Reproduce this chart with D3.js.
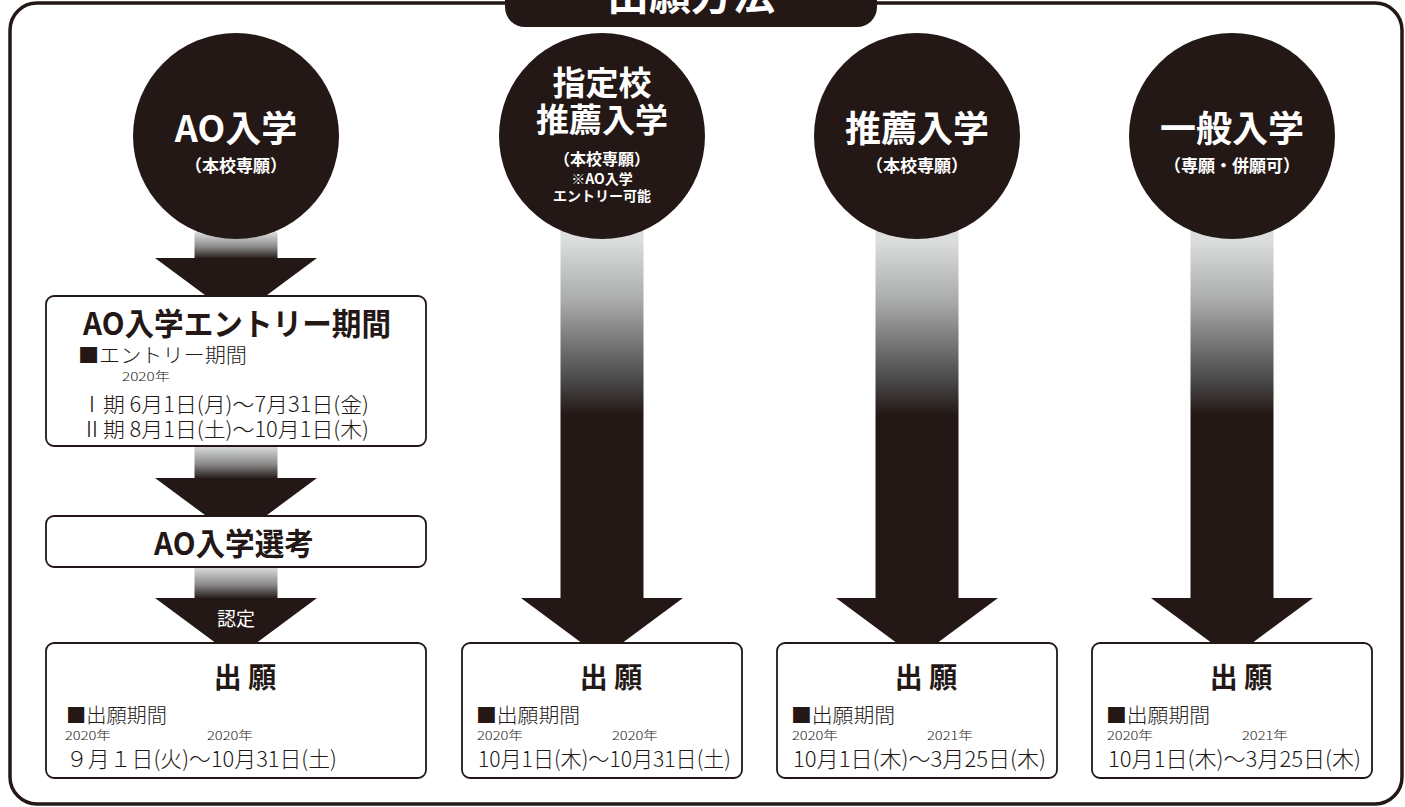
<!DOCTYPE html>
<html lang="ja">
<head>
<meta charset="utf-8">
<script src="https://cdn.jsdelivr.net/npm/d3@7"></script>
<style>
  html, body { margin: 0; padding: 0; background: #fff; }
  svg { display: block; font-family: "Noto Sans CJK JP", "Noto Sans", sans-serif; }
</style>
</head>
<body>
<div class="chart"></div>
<script>
// --- data ---
const heading = "出願方法"
const courses = ["AO入学", "指定校推薦入学", "推薦入学", "一般入学"]
const courseTitleLines = [["AO入学"], ["指定校", "推薦入学"], ["推薦入学"], ["一般入学"]]
const courseNotes = [["（本校専願）"], ["（本校専願）", "※AO入学", "エントリー可能"], ["（本校専願）"], ["（専願・併願可）"]]
const aoSteps = ["AO入学エントリー期間", "AO入学選考"]
const entryLabel = "■エントリー期間"
const entryYear = "2020年"
const entryPeriods = ["Ⅰ期 6月1日(月)～7月31日(金)", "Ⅱ期 8月1日(土)～10月1日(木)"]
const approvalLabel = "認定"
const applyTitle = "出 願"
const applyLabel = "■出願期間"
const applyStartYears = ["2020年", "2020年", "2020年", "2020年"]
const applyEndYears = ["2020年", "2020年", "2021年", "2021年"]
const applyPeriods = ["９月１日(火)～10月31日(土)", "10月1日(木)～10月31日(土)", "10月1日(木)～3月25日(木)", "10月1日(木)～3月25日(木)"]

// --- look ---
const ink = "#231815"
const pale = "#dcdddd"

const width = 1405, height = 807
const svg = d3.select("div.chart").append("svg")
    .attr("width", width)
    .attr("height", height)

const colX = d3.scaleOrdinal().domain(courses).range([236, 602, 917, 1232])
const boxW = d3.scaleOrdinal().domain(courses).range([380, 280, 280, 280])

const defs = svg.append("defs")
// short stems: fade across the whole stem
const g1 = defs.append("linearGradient").attr("id", "fadeShort")
    .attr("x1", 0).attr("y1", 0).attr("x2", 0).attr("y2", 1)
g1.append("stop").attr("offset", 0).attr("stop-color", pale)
g1.append("stop").attr("offset", 0.55).attr("stop-color", "#8a8a8a")
g1.append("stop").attr("offset", 1).attr("stop-color", ink)
// long stems: fade then solid
const g2 = defs.append("linearGradient").attr("id", "fadeLong")
    .attr("gradientUnits", "userSpaceOnUse")
    .attr("x1", 0).attr("y1", 240).attr("x2", 0).attr("y2", 415)
g2.append("stop").attr("offset", 0).attr("stop-color", pale)
g2.append("stop").attr("offset", 0.35).attr("stop-color", "#a9aaaa")
g2.append("stop").attr("offset", 0.8).attr("stop-color", "#4a4949")
g2.append("stop").attr("offset", 1).attr("stop-color", ink)

// outer frame + heading tab
svg.append("rect")
    .attr("x", 10).attr("y", 3).attr("width", 1392).attr("height", 801)
    .attr("rx", 27)
    .attr("fill", "none").attr("stroke", ink).attr("stroke-width", 3.5)

svg.append("rect")
    .attr("x", 505).attr("y", -30).attr("width", 372).attr("height", 57)
    .attr("rx", 20)
    .attr("fill", ink)
svg.append("text")
    .attr("x", 691).attr("y", 10)
    .attr("text-anchor", "middle")
    .attr("font-size", 42).attr("font-weight", 700)
    .attr("fill", "#fff")
    .text(heading)

// arrows: stem + head
function arrow(cx, top, headTop, grad) {
    svg.append("rect")
        .attr("x", cx - 41.5).attr("y", top)
        .attr("width", 83).attr("height", headTop - top + 1)
        .attr("fill", `url(#${grad})`)
    svg.append("path")
        .attr("d", d3.line()([[cx - 81, headTop], [cx + 81, headTop], [cx, headTop + 60]]) + "Z")
        .attr("fill", ink)
}

const ao = courses[0]
arrow(colX(ao), 232, 258, "fadeShort")
arrow(colX(ao), 446, 478, "fadeShort")
arrow(colX(ao), 567, 598, "fadeShort")
courses.slice(1).forEach(c => arrow(colX(c), 225, 598, "fadeLong"))

svg.append("text")
    .attr("x", colX(ao)).attr("y", 626)
    .attr("text-anchor", "middle")
    .attr("font-size", 19)
    .attr("fill", "#fff")
    .text(approvalLabel)

// circles
const circ = svg.selectAll("g.course")
    .data(courses)
    .enter().append("g")
    .attr("class", "course")
    .attr("transform", d => `translate(${colX(d)},0)`)

circ.append("circle")
    .attr("cy", 136).attr("r", 103)
    .attr("fill", ink)

circ.each(function (d, i) {
    const g = d3.select(this)
    const titles = courseTitleLines[i]
    const notes = courseNotes[i]
    if (titles.length === 1) {
        g.append("text").attr("y", 142)
            .attr("text-anchor", "middle").attr("font-size", 36).attr("font-weight", 700)
            .attr("fill", "#fff").text(titles[0])
        g.append("text").attr("y", 172)
            .attr("text-anchor", "middle").attr("font-size", 17).attr("font-weight", 700)
            .attr("fill", "#fff").text(notes[0])
    } else {
        const ys = [95, 132]
        titles.forEach((t, k) => {
            g.append("text").attr("y", ys[k])
                .attr("text-anchor", "middle").attr("font-size", 33).attr("font-weight", 700)
                .attr("fill", "#fff").text(t)
        })
        const ny = [165, 184, 201]
        const ns = [16, 14, 14]
        notes.forEach((t, k) => {
            g.append("text").attr("y", ny[k])
                .attr("text-anchor", "middle").attr("font-size", ns[k]).attr("font-weight", 700)
                .attr("fill", "#fff").text(t)
        })
    }
})

// boxes
function box(cx, w, y, h) {
    svg.append("rect")
        .attr("x", cx - w / 2).attr("y", y)
        .attr("width", w).attr("height", h)
        .attr("rx", 8)
        .attr("fill", "#fff").attr("stroke", ink).attr("stroke-width", 1.8)
}

function txt(x, y, s, size, opts = {}) {
    const t = svg.append("text")
        .attr("x", x).attr("y", y)
        .attr("font-size", size)
        .attr("font-weight", opts.bold ? 700 : 300)
        .attr("fill", ink)
        .attr("text-anchor", opts.anchor || "start")
        .text(s)
    if (opts.len) t.attr("textLength", opts.len).attr("lengthAdjust", "spacingAndGlyphs")
    return t
}

// AO entry box
const aoX = colX(ao), aoW = boxW(ao), aoL = aoX - aoW / 2
box(aoX, aoW, 296, 150)
txt(aoX + 1, 335, aoSteps[0], 31, {bold: true, anchor: "middle", len: 308})
txt(aoL + 32, 363, entryLabel, 20, {len: 169})
txt(aoL + 76, 381, entryYear, 12, {len: 48})
entryPeriods.forEach((p, k) => {
    txt(aoL + 35, 412 + k * 25, p, 21, {len: 288})
})

// AO selection box
box(aoX, aoW, 516, 51)
txt(aoX - 2, 555, aoSteps[1], 31, {bold: true, anchor: "middle", len: 160})

// application boxes
courses.forEach((c, i) => {
    const cx = colX(c), w = boxW(c), left = cx - w / 2
    const wide = i === 0
    box(cx, w, 643, 135)
    txt(cx + 9, 688, applyTitle, 28, {bold: true, anchor: "middle"})
    txt(left + (wide ? 20 : 14), 723, applyLabel, 20, {len: wide ? 101 : 104})
    const p0 = left + (wide ? 19 : 15)
    txt(p0, 740, applyStartYears[i], 12, {len: 46})
    txt(p0 + (wide ? 142 : 135), 740, applyEndYears[i], 12, {len: 46})
    txt(p0 + 1, 767, applyPeriods[i], 22, {len: wide ? 271 : 253})
})
</script>
</body>
</html>
